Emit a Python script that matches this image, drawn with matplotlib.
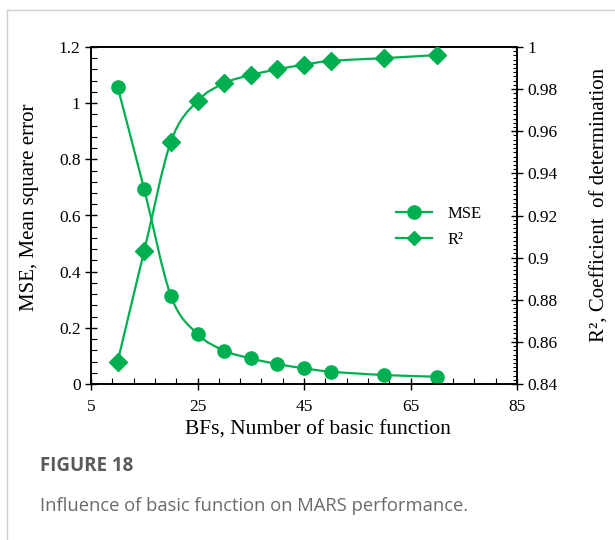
import numpy as np
import matplotlib
matplotlib.use("Agg")
import matplotlib.pyplot as plt
from matplotlib.path import Path
from matplotlib.patches import PathPatch
from matplotlib.lines import Line2D
from matplotlib.ticker import MultipleLocator, FuncFormatter

# Data
bfs = [10, 15, 20, 25, 30, 35, 40, 45, 50, 60, 70]
mse = [1.058, 0.693, 0.314, 0.178, 0.119, 0.091, 0.071, 0.056, 0.044, 0.032, 0.026]
r2 = [0.8506, 0.9033, 0.9550, 0.9744, 0.9828, 0.9867, 0.9894, 0.9916, 0.9934, 0.9947, 0.9962]

GREEN = "#00B050"
plt.rcParams['font.family'] = ['Liberation Serif', 'DejaVu Serif']

fig = plt.figure(figsize=(6.15, 5.4), dpi=100)
ax = fig.add_axes([91/615, 1-384/540, (517-91)/615, (384-47)/540])
ax2 = ax.twinx()


def smooth_path(xs, ys):
    pts = np.column_stack([xs, ys]).astype(float)
    n = len(pts)
    verts = [pts[0]]
    codes = [Path.MOVETO]
    for i in range(n - 1):
        p0 = pts[i - 1] if i > 0 else pts[i]
        p1 = pts[i]
        p2 = pts[i + 1]
        p3 = pts[i + 2] if i + 2 < n else pts[i + 1]
        c1 = p1 + (p2 - p0) / 6.0
        c2 = p2 - (p3 - p1) / 6.0
        verts += [c1, c2, p2]
        codes += [Path.CURVE4] * 3
    return Path(verts, codes)


ax.add_patch(PathPatch(smooth_path(bfs, mse), facecolor='none', edgecolor=GREEN, lw=1.6, zorder=2))
ax.plot(bfs, mse, linestyle='none', marker='o', markersize=9.5, color=GREEN, zorder=3)
ax2.add_patch(PathPatch(smooth_path(bfs, r2), facecolor='none', edgecolor=GREEN, lw=1.6, zorder=2))
ax2.plot(bfs, r2, linestyle='none', marker='D', markersize=9, color=GREEN, zorder=3)

ax.set_xlim(5, 85)
ax.set_ylim(0, 1.2)
ax2.set_ylim(0.84, 1.0)

ax.xaxis.set_major_locator(MultipleLocator(20, offset=5))
ax.xaxis.set_minor_locator(MultipleLocator(4, offset=1))
ax.yaxis.set_major_locator(MultipleLocator(0.2))
ax.yaxis.set_minor_locator(MultipleLocator(0.04))
ax2.yaxis.set_major_locator(MultipleLocator(0.02))
ax2.yaxis.set_minor_locator(MultipleLocator(0.002))

fmt = FuncFormatter(lambda v, p: '{:g}'.format(round(v, 4)))
ax.yaxis.set_major_formatter(fmt)
ax2.yaxis.set_major_formatter(fmt)
ax.xaxis.set_major_formatter(fmt)

for a in (ax, ax2):
    for s in a.spines.values():
        s.set_linewidth(1.2)
        s.set_color('black')

ax.tick_params(axis='both', which='major', direction='inout', length=8, width=1.0, labelsize=12.5, top=False, right=False)
ax.tick_params(axis='both', which='minor', direction='in', length=4, width=0.8, top=False, right=False)
ax2.tick_params(axis='y', which='major', direction='inout', length=8, width=1.0, labelsize=12.5)
ax2.tick_params(axis='y', which='minor', direction='in', length=3, width=0.8)
ax.tick_params(axis='x', pad=7)

ax.set_xlabel('BFs, Number of basic function', fontsize=15.5, labelpad=4, x=0.533)
ax.set_ylabel('MSE, Mean square error', fontsize=15, labelpad=14, y=0.525)
ax2.set_ylabel('R², Coefficient  of determination', fontsize=15, labelpad=24, y=0.53)

handles = [Line2D([], [], color=GREEN, lw=1.6, marker='o', markersize=9.5),
           Line2D([], [], color=GREEN, lw=1.6, marker='D', markersize=7)]
ax.legend(handles, ['MSE', 'R²'], loc='center left', bbox_to_anchor=(0.68, 0.465),
          frameon=False, fontsize=12, handlelength=2.2, handletextpad=0.9, labelspacing=0.6)

# card borders
fig.add_artist(Line2D([7/615, 7/615], [0, 1-10/540], transform=fig.transFigure, color='#cfcfcf', lw=1.0))
fig.add_artist(Line2D([7/615, 1], [1-10/540, 1-10/540], transform=fig.transFigure, color='#cfcfcf', lw=1.0))

fig.text(40/615, 1-466/540, 'FIGURE 18', fontsize=13.5, fontweight='bold', color='#5a5a5a',
         family=['Open Sans', 'DejaVu Sans'], va='center', ha='left')
fig.text(40/615, 1-506/540, 'Influence of basic function on MARS performance.', fontsize=13.2,
         color='#6a6a6a', family=['Open Sans', 'DejaVu Sans'], va='center', ha='left')

fig.savefig('out.png', dpi=100)
